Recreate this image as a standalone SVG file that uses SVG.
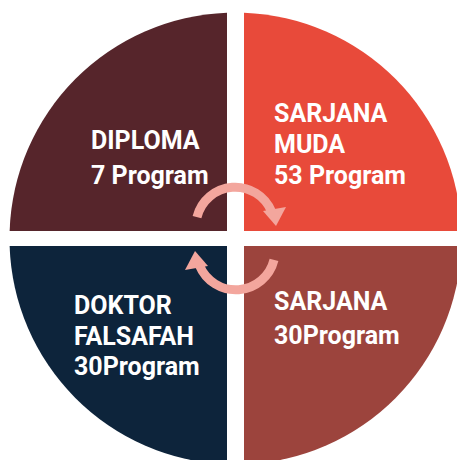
<svg xmlns="http://www.w3.org/2000/svg" width="457" height="460" viewBox="0 0 457 460">
<style>
.lbl{font-family:Roboto,"Liberation Sans",sans-serif;font-weight:bold;font-size:25px;fill:#ffffff}
.arc{fill:none;stroke:#F3A69D;stroke-width:9}
.head{fill:#F3A69D}
</style>
<g id="diploma">
<path d="M227,231 L227,12.66 A226,226 0 0 0 9.62,231 Z" fill="#56252B"/>
<text class="lbl" x="91" y="149">DIPLOMA</text>
<text class="lbl" x="91" y="184">7 Program</text>
</g>
<g id="sarjana-muda">
<path d="M244,231 L244,12.66 A226,226 0 0 1 461.38,231 Z" fill="#E84A3A"/>
<text class="lbl" x="274" y="122">SARJANA</text>
<text class="lbl" x="274" y="153">MUDA</text>
<text class="lbl" x="274" y="184">53 Program</text>
</g>
<g id="doktor-falsafah">
<path d="M227,246 L9.62,246 A226,226 0 0 0 227,464.34 Z" fill="#0D243B"/>
<text class="lbl" x="74" y="314">DOKTOR</text>
<text class="lbl" x="74" y="345">FALSAFAH</text>
<text class="lbl" x="74" y="375">30Program</text>
</g>
<g id="sarjana">
<path d="M244,246 L461.38,246 A226,226 0 0 1 244,464.34 Z" fill="#9C443D"/>
<text class="lbl" x="274" y="310">SARJANA</text>
<text class="lbl" x="274" y="344">30Program</text>
</g>
<g id="connectors">
<path class="arc" d="M197,217.1 A39.3,39.3 0 0 1 271.5,211.5"/>
<polygon class="head" points="263,211 286,207 276,226"/>
<path class="arc" d="M274,259.9 A39.3,39.3 0 0 1 199.5,265.5"/>
<polygon class="head" points="208,266 185,270 195,251"/>
</g>
</svg>
